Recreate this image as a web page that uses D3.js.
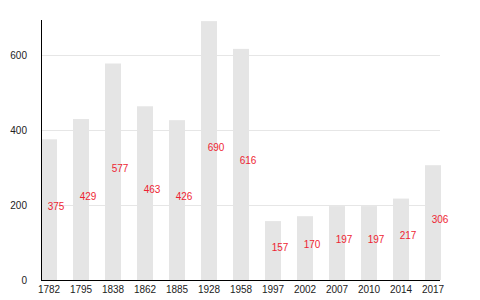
<!doctype html>
<html>
<head>
  <style>
      body { margin:0; background:#fff; }
      svg { width:480px; height:300px; display:block; }
      .grid line { stroke:#e6e6e6; shape-rendering:crispEdges; }
      .grid path { display:none; }
      .axis path { stroke:#000; shape-rendering:crispEdges; }
      .axis text { font-size:10px; fill:#222; font-family:"Liberation Sans", Arial, sans-serif; }
      .bar { fill:#e5e5e5; }
      .lbl { font-size:10px; fill:#ee1f33; font-family:"Liberation Sans", Arial, sans-serif; text-anchor:middle; }
  </style>
  <script src="https://cdn.jsdelivr.net/npm/d3@7"></script>
</head>
<body>
  <script>
      // data
      var years = ["1782","1795","1838","1862","1885","1928","1958","1997","2002","2007","2010","2014","2017"];
      var values = [375,429,577,463,426,690,616,157,170,197,197,217,306];
      var yTicks = [0,200,400,600];

      var xLeft = 41, xRight = 441, yTop = 20, yBottom = 280;

      var svg = d3.select("body").append("svg");

      var x = d3.scaleBand()
         .domain(years)
         .range([xLeft, xRight])
         .paddingInner(0.5)
         .paddingOuter(0)
         .align(0);

      var y = d3.scaleLinear()
         .domain([0, 693])
         .range([yBottom, yTop]);

      // gridlines
      svg.append("g")
         .attr("class", "grid")
         .attr("transform", "translate(" + xLeft + ",0)")
         .call(d3.axisLeft(y).tickValues(yTicks.slice(1)).tickSize(-(xRight - 1 - xLeft)).tickFormat(""));

      // bars
      svg.append("g").selectAll("rect")
         .data(values)
         .enter()
         .append("rect")
         .attr("class", "bar")
         .attr("x", function(d,i) { return x(years[i]) })
         .attr("y", function(d) { return y(d) })
         .attr("width", x.bandwidth())
         .attr("height", function(d) { return y(0) - y(d) });

      // value labels, baseline at half the bar, nudged right
      svg.append("g").selectAll("text")
         .data(values)
         .enter()
         .append("text")
         .attr("class", "lbl")
         .attr("x", function(d,i) { return x(years[i]) + x.bandwidth()/2 + 7 })
         .attr("y", function(d) { return y(d/2) })
         .text(function(d) { return d });

      // axes
      svg.append("g")
         .attr("class", "axis")
         .attr("transform", "translate(0," + yBottom + ")")
         .call(d3.axisBottom(x).tickSize(0).tickPadding(6).tickSizeOuter(0))
         .select(".domain").attr("d", "M" + xLeft + ",0.5H" + (xRight - 1));

      svg.append("g")
         .attr("class", "axis")
         .attr("transform", "translate(" + xLeft + ",0)")
         .call(d3.axisLeft(y).tickValues(yTicks).tickSize(0).tickPadding(14))
         .select(".domain").attr("d", "M0.5," + yTop + "V" + yBottom);
  </script>
</body>
</html>
